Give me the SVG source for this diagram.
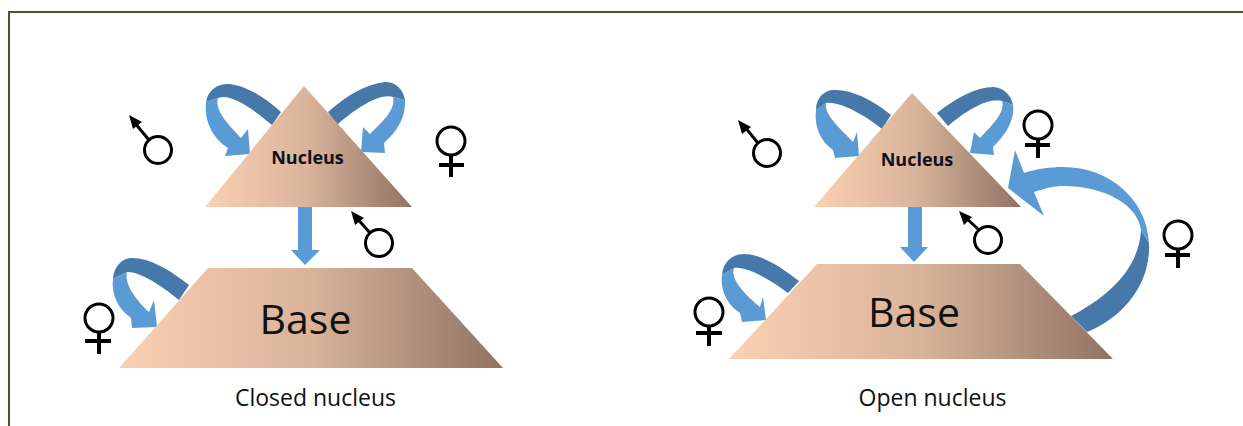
<svg xmlns="http://www.w3.org/2000/svg" width="1243" height="426" viewBox="0 0 1243 426">
<style>
.lt{fill:#5b9bd5}
.dk{fill:#4679a9}
.sym{fill:none;stroke:#000;stroke-width:3}
.bar{fill:none;stroke:#000;stroke-width:4}
.hd{fill:#000}
.tri{fill:url(#tan)}
text{font-family:"Open Sans","Noto Sans","DejaVu Sans",sans-serif;fill:#111;text-anchor:middle}
.nuc{font-size:18px;font-weight:700;fill:#10101c}
.base{font-size:41px}
.cap{font-size:23px}
</style>
<defs>
<linearGradient id="tan" x1="0" y1="0" x2="1" y2="0">
<stop offset="0" stop-color="#fbd0b2"/>
<stop offset="0.5" stop-color="#d9b39a"/>
<stop offset="1" stop-color="#8f7361"/>
</linearGradient>
</defs>
<rect width="1243" height="426" fill="#fff"/>
<path d="M9 426V12H1243" fill="none" stroke="#3f5e26" stroke-width="2"/>
<g id="connectors">
<path class="dk" d="M281 112C262 95 244 85 228 84C216 84 208 91 206 102L218 98C230 93 252 108 272 125Z"/>
<path class="lt" d="M206 102C204 120 212 138 228 148L225 156L250 154L248 129L241 138C228 124 214 110 218 98Z"/>
<path class="dk" d="M328 112C347 95 366 84 385 82C396 82 403 89 405 100L393 97C380 93 356 108 337 125Z"/>
<path class="lt" d="M405 100C406 116 398 131 384 143L385 153L361 152L363 127L370 134C382 122 396 110 393 97Z"/>
<rect class="lt" x="298" y="207" width="14" height="43"/>
<path class="lt" d="M291 250H320L305 265Z"/>
<path class="dk" d="M189 285C170 270 150 258 132 258C122 258 114 266 113 279L127 272C138 271 160 284 179 300Z"/>
<path class="lt" d="M113 279C111 294 118 309 131 318L132 328L157 327L154 300L149 312C136 300 124 284 127 272Z"/>
<path class="dk" d="M891 115C872 99 850 89 834 90C824 90 816 98 816 110L826 103C838 101 862 113 882 129Z"/>
<path class="lt" d="M816 110C814 126 820 141 833 150L835 158L859 156L857 132L853 142C840 128 824 115 826 103Z"/>
<path class="dk" d="M937 113C955 99 975 87 994 87C1004 88 1011 95 1013 105L1002 101C988 97 966 111 948 126Z"/>
<path class="lt" d="M1013 105C1015 119 1006 135 993 147L994 155L970 153L974 132L980 138C990 127 1006 113 1002 101Z"/>
<rect class="lt" x="908" y="206" width="14" height="41"/>
<path class="lt" d="M900 247H928L914 262Z"/>
<path class="dk" d="M799 281C780 266 760 254 744 254C732 254 723 262 722 275L734 268C746 266 770 279 788 293Z"/>
<path class="lt" d="M722 275C720 290 727 305 740 313L742 322L766 320L763 297L760 307C746 295 730 280 734 268Z"/>
<path class="dk" d="M1071 316C1108 297 1139 269 1141 230L1149 243C1151 285 1122 318 1087 332Z"/>
<path class="lt" d="M1149 243C1147 200 1110 167 1063 167C1050 167 1036 169 1024 173L1015 150L1008 188L1044 216L1034 192C1046 188 1055 186 1063 186C1105 186 1138 205 1141 230Z"/>
</g>
<g id="nucleus-closed">
<path class="tri" d="M304 86L412 207H205Z"/>
<text class="nuc" x="307.500" y="164">Nucleus</text>
</g>
<g id="base-closed">
<path class="tri" d="M208 268H412L503 368H119Z"/>
<text class="base" x="305.500" y="334">Base</text>
</g>
<g id="nucleus-open">
<path class="tri" d="M912 93L1021 207H814Z"/>
<text class="nuc" x="917" y="166">Nucleus</text>
</g>
<g id="base-open">
<path class="tri" d="M817 264H1020L1113 359H729Z"/>
<text class="base" x="914" y="327">Base</text>
</g>
<g id="male-1"><circle class="sym" cx="158" cy="150" r="13.500"/><path class="sym" d="M149 140L134 122"/><path class="hd" d="M129 115L142 122L133 129Z"/></g>
<g id="male-2"><circle class="sym" cx="379" cy="243" r="13.500"/><path class="sym" d="M370 233L356 217"/><path class="hd" d="M351 211L364 218L355 225Z"/></g>
<g id="male-3"><circle class="sym" cx="767" cy="153" r="13.500"/><path class="sym" d="M758 143L744 126"/><path class="hd" d="M738 120L751 127L742 134Z"/></g>
<g id="male-4"><circle class="sym" cx="988" cy="240" r="13.500"/><path class="sym" d="M979 230L965 217"/><path class="hd" d="M959 211L972 217L964 225Z"/></g>
<g id="female-1"><circle class="sym" cx="451" cy="141" r="14"/><path class="bar" d="M451 155V177M439 165H464"/></g>
<g id="female-2"><circle class="sym" cx="99" cy="318" r="14"/><path class="bar" d="M99 332V354M85 341H111"/></g>
<g id="female-3"><circle class="sym" cx="1038" cy="125" r="14"/><path class="bar" d="M1038 139V158M1025 145H1050"/></g>
<g id="female-4"><circle class="sym" cx="1178" cy="235" r="14"/><path class="bar" d="M1178 249V268M1165 255H1190"/></g>
<g id="female-5"><circle class="sym" cx="709" cy="312" r="14"/><path class="bar" d="M709 326V346M696 333H722"/></g>
<text class="cap" x="315.500" y="406">Closed nucleus</text>
<text class="cap" x="932.500" y="406">Open nucleus</text>
</svg>
